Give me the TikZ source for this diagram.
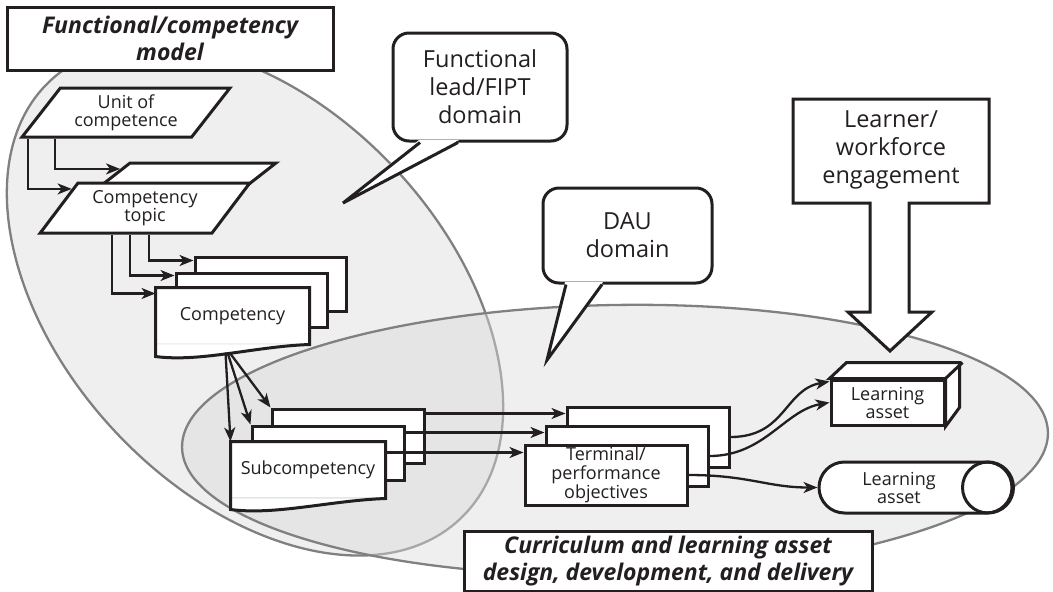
\documentclass[tikz,border=0pt]{standalone}
\usepackage{fontspec}
\setmainfont{Open Sans}
\usepackage{tikz}
\usetikzlibrary{shapes,arrows.meta,positioning,calc}

\definecolor{ink}{HTML}{231F20}
\definecolor{domfill}{gray}{0.937}
\definecolor{domline}{gray}{0.5}
\definecolor{ovfill}{gray}{0.855}

\begin{document}
\begin{tikzpicture}[
    x=1pt, y=-1pt,
    every node/.style={text=ink},
    txt/.style={font=\fontsize{18pt}{18pt}\selectfont, align=center},
    bigtxt/.style={font=\fontsize{23.5pt}{28pt}\selectfont, align=center},
    heading/.style={rectangle, draw=ink, fill=white, line width=3pt, inner sep=0pt, align=center, font=\fontsize{23pt}{26.5pt}\selectfont\bfseries\itshape},
    para/.style={trapezium, trapezium left angle=52, trapezium right angle=128, trapezium stretches=true, draw=ink, fill=white, line width=3pt, inner sep=2pt, txt},
    sheet/.style={rectangle, draw=ink, fill=white, line width=3pt, inner sep=0pt, txt},
    bubble/.style={rectangle, rounded corners=16pt, draw=ink, fill=white, line width=3pt, inner sep=0pt, bigtxt},
    edge/.style={draw=ink, line width=3pt},
    arrow/.style={-{Stealth[length=14pt, width=11pt, inset=4pt]}, draw=ink, line width=2.3pt}
]
    \useasboundingbox (0,0) rectangle (1053,592);

    \draw[fill=domfill, draw=domline, line width=2.3pt, rotate around={-47:(255,300)}] (255,300) ellipse [x radius=300pt, y radius=192pt];
    \draw[fill=ovfill, fill opacity=0.44, draw=domline, line width=2.3pt, rotate around={1:(615,440)}] (615,440) ellipse [x radius=433pt, y radius=135pt];

    \node[heading, minimum width=326pt, minimum height=63pt] (fcm) at (170,38.5) {Functional/competency\\model};
    \node[heading, minimum width=408pt, minimum height=60pt] (cdd) at (668,561) {Curriculum and learning asset\\design, development, and delivery};

    \node[bubble, minimum width=174pt, minimum height=108pt] (fdom) at (480,87) {Functional\\lead/FIPT\\domain};
    \coordinate (ftip) at (343,203);
    \fill[white] ([shift={(-61,-2.5)}]fdom.south) -- ([shift={(-21,-2.5)}]fdom.south) -- (ftip) -- cycle;
    \draw[edge] ([xshift=-60pt]fdom.south) -- (ftip) -- ([xshift=-22pt]fdom.south);

    \node[bubble, minimum width=169pt, minimum height=95pt] (dau) at (627.5,235.5) {DAU\\domain};
    \coordinate (dtip) at (547,360);
    \fill[white] ([shift={(-62.5,-2.5)}]dau.south) -- ([shift={(-24.5,-2.5)}]dau.south) -- (dtip) -- cycle;
    \draw[edge] ([xshift=-61.5pt]dau.south) -- (dtip) -- ([xshift=-25.5pt]dau.south);

    \filldraw[fill=white, edge] (793,99) -- (989,99) -- (989,203) -- (909,203) -- (909,312) -- (932,312) -- (890,351) -- (848,312) -- (870,312) -- (870,203) -- (793,203) -- cycle;
    \node[bigtxt] (lwe) at (891,150) {Learner/\\workforce\\engagement};

    \node[para, minimum width=208pt, minimum height=49pt] (unit) at (126,112.5) {Unit of\\competence};
    \node[para, minimum width=210pt, minimum height=50pt] (topic2) at (171,188) {};
    \node[para, minimum width=210pt, minimum height=50pt] (topic) at (145,208) {Competency\\topic};

    \draw[arrow] (unit.bottom left corner) ++(9,0) |- ($(topic.top left corner)!0.14!(topic.bottom left corner)$);
    \draw[arrow] (unit.bottom left corner) ++(36,0) |- ($(topic2.top left corner)!0.14!(topic2.bottom left corner)$);

    \coordinate (c1) at (232.5,316);
    \node[sheet, minimum width=151pt, minimum height=54pt] (comp3) at ([shift={(38,-32)}]c1) {};
    \node[sheet, minimum width=151pt, minimum height=54pt] (comp2) at ([shift={(19,-16)}]c1) {};
    \node[sheet, draw=none, minimum width=151pt, minimum height=54pt] (comp) at (c1) {Competency};
    \fill[white] (comp.south east) .. controls +(-55,2) and +(45,6) .. ([yshift=-12pt]comp.south west) -- (comp.south west) -- cycle;
    \draw[edge] (comp.south west) -- (comp.north west) -- (comp.north east) -- (comp.south east) .. controls +(-55,2) and +(45,6) .. ([yshift=-12pt]comp.south west) -- cycle;

    \draw[arrow] (topic.bottom left corner) ++(75,0) |- ([yshift=-6pt]comp.north west);
    \draw[arrow] (topic.bottom left corner) ++(93,0) |- ([yshift=-4pt]comp2.north west);
    \draw[arrow] (topic.bottom left corner) ++(112,0) |- ([yshift=-5pt]comp3.north west);

    \coordinate (s1) at (308,470);
    \node[sheet, minimum width=152pt, minimum height=54pt] (sub3) at ([shift={(40,-34)}]s1) {};
    \node[sheet, minimum width=152pt, minimum height=54pt] (sub2) at ([shift={(20,-17)}]s1) {};
    \node[sheet, draw=none, minimum width=152pt, minimum height=54pt] (sub) at (s1) {Subcompetency};
    \fill[white] (sub.south east) .. controls +(-55,2) and +(45,6) .. ([yshift=-11pt]sub.south west) -- (sub.south west) -- cycle;
    \draw[edge] (sub.south west) -- (sub.north west) -- (sub.north east) -- (sub.south east) .. controls +(-55,2) and +(45,6) .. ([yshift=-11pt]sub.south west) -- cycle;

    \draw[arrow] ([shift={(-7,8)}]comp.south) -- (sub.north west);
    \draw[arrow] ([shift={(-5,8)}]comp.south) -- (sub2.north west);
    \draw[arrow] ([shift={(-3,8)}]comp.south) -- (sub3.north west);

    \coordinate (o1) at (606,475);
    \node[sheet, minimum width=162pt, minimum height=60pt] (obj3) at ([shift={(42,-38)}]o1) {};
    \node[sheet, minimum width=162pt, minimum height=60pt] (obj2) at ([shift={(21,-19)}]o1) {};
    \node[sheet, minimum width=162pt, minimum height=60pt, font=\fontsize{18pt}{19pt}\selectfont] (obj) at (o1) {Terminal/\\performance\\objectives};

    \draw[arrow] ($(sub3.east |- obj3.north)+(0,8)$) -- ($(obj3.north west)+(0,8)$);
    \draw[arrow] ($(sub2.east |- obj2.north)+(0,8)$) -- ($(obj2.north west)+(0,8)$);
    \draw[arrow] ($(sub.east |- obj.north)+(0,9)$) -- ($(obj.north west)+(0,9)$);

    \node[sheet, minimum width=113pt, minimum height=45pt] (cube) at (887.5,402.5) {Learning\\asset};
    \filldraw[fill=white, edge] (cube.north west) -- ++(17,-16) -- ++(113,0) -- ++(0,45) -- (cube.south east) -- (cube.north east) -- cycle;
    \draw[edge] (cube.north east) -- ++(17,-16);

    \node[rounded rectangle, draw=ink, fill=white, line width=3pt, inner sep=0pt, minimum width=193pt, minimum height=51pt] (cyl) at (915.5,487.5) {};
    \draw[edge] ([xshift=-25.5pt]cyl.east) circle [radius=25.5pt];
    \node[txt] (cyltxt) at ([xshift=-16.5pt]cyl.center) {Learning\\asset};

    \draw[arrow] (obj3.east) .. controls +(55,0) and +(-45,8) .. ([yshift=-3pt]cube.north west);
    \draw[arrow] (obj2.east) .. controls +(55,0) and +(-45,8) .. (cube.west);
    \draw[arrow] (obj.east) .. controls +(60,0) and +(-50,0) .. (cyl.west);
\end{tikzpicture}
\end{document}
